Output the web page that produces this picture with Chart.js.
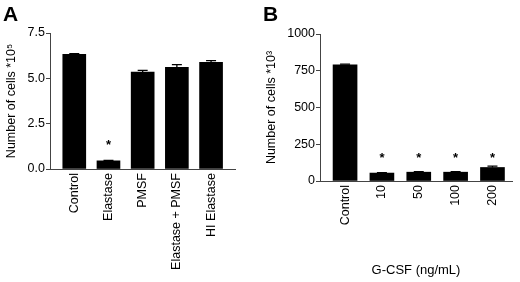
<!DOCTYPE html>
<html>
<head>
<meta charset="utf-8">
<script src="https://cdn.jsdelivr.net/npm/chart.js@4"></script>
<style>
  body { margin: 0; background: #fff; }
  .panel { position: absolute; top: 0; width: 260px; height: 282px; }
  .letter { position: absolute; font: bold 21px "Liberation Sans", Arial, sans-serif; color: #000; }
</style>
</head>
<body>
<div class="panel" style="left:0"><canvas id="chartA" width="260" height="282"></canvas></div>
<div class="panel" style="left:260px"><canvas id="chartB" width="260" height="282"></canvas></div>
<div class="letter" style="left:3px;top:2px">A</div>
<div class="letter" style="left:263px;top:2px">B</div>
<script>
// Panel A data
const catsA = ['Control', 'Elastase', 'PMSF', 'Elastase + PMSF', 'HI Elastase'];
const valuesA = [6.33, 0.45, 5.35, 5.61, 5.88];
const errorsA = [0.03, 0.03, 0.09, 0.15, 0.1];
const starsA = [null, 1.45, null, null, null];
const ticksA = [0, 2.5, 5, 7.5];

// Panel B data
const catsB = ['Control', '10', '50', '100', '200'];
const valuesB = [790, 54, 60, 60, 92];
const errorsB = [5, 3, 3, 3, 9];
const starsB = [null, 177, 177, 177, 177];
const ticksB = [0, 250, 500, 750, 1000];

const FONT = '"Liberation Sans", Arial, sans-serif';
Chart.defaults.font.family = FONT;
Chart.defaults.color = '#000';

// error bars and significance stars
const extrasPlugin = {
    id: 'extras',
    afterDatasetsDraw(chart, args, opts) {
        const ctx = chart.ctx;
        const xs = chart.scales.x, ys = chart.scales.y;
        ctx.save();
        ctx.strokeStyle = '#000';
        ctx.lineWidth = 1.3;
        opts.values.forEach((v, i) => {
            const x = xs.getPixelForValue(i);
            const yTop = ys.getPixelForValue(v + opts.errors[i]);
            const yBar = ys.getPixelForValue(v);
            ctx.beginPath();
            ctx.moveTo(x, yBar);
            ctx.lineTo(x, yTop);
            ctx.moveTo(x - 5, yTop);
            ctx.lineTo(x + 5, yTop);
            ctx.stroke();
            if (opts.stars[i] != null) {
                ctx.fillStyle = '#000';
                ctx.font = 'bold 13px ' + FONT;
                ctx.textAlign = 'center';
                ctx.textBaseline = 'middle';
                ctx.fillText('*', x, ys.getPixelForValue(opts.stars[i]) + 3);
            }
        });
        ctx.restore();
    }
};

function makeChart(id, cats, values, errors, stars, yTicks, yTitle, xTitle, dims) {
    return new Chart(document.getElementById(id), {
        type: 'bar',
        data: {
            datasets: [{
                data: values.map((v, i) => ({ x: i, y: v })),
                backgroundColor: '#000',
                borderWidth: 0,
                barThickness: dims.barW
            }]
        },
        options: {
            responsive: false,
            animation: false,
            layout: { padding: { top: dims.top, right: dims.right, left: 0, bottom: 0 } },
            plugins: {
                legend: { display: false },
                tooltip: { enabled: false },
                extras: { values: values, errors: errors, stars: stars }
            },
            scales: {
                x: {
                    type: 'linear',
                    offset: false,
                    min: dims.xMin,
                    max: dims.xMax,
                    grid: { display: false, drawTicks: false },
                    border: { display: true, color: '#444', width: 1 },
                    afterBuildTicks: axis => { axis.ticks = cats.map((c, i) => ({ value: i })); },
                    afterFit: axis => { axis.height = dims.xH; },
                    ticks: {
                        minRotation: 90,
                        maxRotation: 90,
                        autoSkip: false,
                        padding: 4,
                        font: { size: 12.5 },
                        callback: v => cats[v]
                    },
                    title: {
                        display: !!xTitle,
                        text: xTitle,
                        font: { size: 13 },
                        padding: { top: 0, bottom: 4 }
                    }
                },
                y: {
                    min: yTicks[0],
                    max: yTicks[yTicks.length - 1],
                    grid: { display: true, drawOnChartArea: false, tickLength: 4, color: '#444' },
                    border: { display: true, color: '#444', width: 1 },
                    afterBuildTicks: axis => { axis.ticks = yTicks.map(v => ({ value: v })); },
                    afterFit: axis => { axis.width = dims.yW; },
                    ticks: {
                        padding: 1,
                        font: { size: 12.5 },
                        callback: v => dims.dec ? v.toFixed(1) : String(v)
                    },
                    title: {
                        display: true,
                        text: yTitle,
                        font: { size: 12.5 },
                        padding: { top: 4, bottom: 4 }
                    }
                }
            }
        },
        plugins: [extrasPlugin]
    });
}

makeChart('chartA', catsA, valuesA, errorsA, starsA, ticksA,
    'Number of cells *10\u2075', '',
    { top: 33, right: 25, xH: 113, yW: 50, xMin: -0.71, xMax: 4.7, barW: 23, dec: true });

makeChart('chartB', catsB, valuesB, errorsB, starsB, ticksB,
    'Number of cells *10\u00b3', 'G-CSF (ng/mL)',
    { top: 34, right: 8, xH: 101, yW: 60, xMin: -0.68, xMax: 4.53, barW: 24, dec: false });
</script>
</body>
</html>
